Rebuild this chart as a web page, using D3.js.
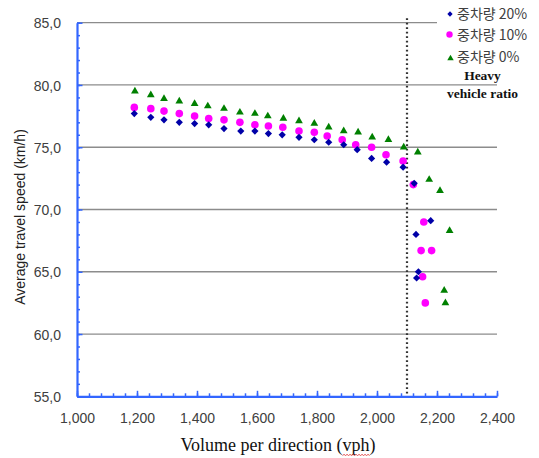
<!DOCTYPE html>
<html>
<head>
<meta charset="utf-8">
<script src="https://cdn.jsdelivr.net/npm/d3@7"></script>
<style>
  html, body { margin: 0; padding: 0; background: #fff; }
  svg { display: block; }
</style>
</head>
<body>
<svg id="chart" width="539" height="458"></svg>
<script>
// ---------------- data ----------------
const xTicks = [1000, 1200, 1400, 1600, 1800, 2000, 2200, 2400];
const yTicks = [55, 60, 65, 70, 75, 80, 85];
const legendLabels = ["중차량 20%", "중차량 10%", "중차량 0%"];
const noteLines = ["Heavy", "vehicle ratio"];
const refVolume = 2100;

// heavy vehicle ratio 20% (blue diamonds)
const vol20 = [1191, 1246, 1290, 1341, 1392, 1439, 1490, 1546, 1593, 1638, 1684, 1740, 1791,
               1839, 1889, 1934, 1982, 2032, 2087, 2124, 2179, 2130, 2138, 2132];
const spd20 = [77.7, 77.4, 77.2, 77.0, 76.9, 76.8, 76.5, 76.3, 76.3, 76.1, 76.0, 75.8, 75.6,
               75.4, 75.2, 74.8, 74.1, 73.8, 73.4, 72.1, 69.1, 68.0, 65.0, 64.5];
// 10% (magenta circles)
const vol10 = [1191, 1246, 1290, 1341, 1392, 1439, 1490, 1543, 1593, 1638, 1686, 1740, 1791,
               1834, 1884, 1929, 1982, 2030, 2087, 2121, 2156, 2147, 2182, 2152, 2161];
const spd10 = [78.2, 78.1, 77.9, 77.7, 77.5, 77.3, 77.2, 77.0, 76.8, 76.7, 76.6, 76.3, 76.2,
               75.9, 75.6, 75.2, 75.0, 74.4, 73.9, 72.0, 69.0, 66.7, 66.7, 64.6, 62.5];
// 0% (green triangles)
const vol0 = [1193, 1246, 1290, 1341, 1392, 1436, 1490, 1543, 1593, 1636, 1688, 1740, 1791,
              1839, 1889, 1937, 1984, 2038, 2089, 2136, 2174, 2210, 2242, 2224, 2228];
const spd0 = [79.5, 79.2, 78.9, 78.7, 78.5, 78.3, 78.1, 77.8, 77.7, 77.5, 77.3, 77.1, 76.9,
              76.6, 76.3, 76.2, 75.8, 75.6, 75.0, 74.6, 72.4, 71.5, 68.3, 63.5, 62.5];

// ---------------- layout ----------------
const svg = d3.select("#chart");
const x = d3.scaleLinear().domain([1000, 2400]).range([77, 497]);
const y = d3.scaleLinear().domain([55, 85]).range([396.3, 22.7]);
const axisColor = "#3366ff";
const tickFont = "'Liberation Sans', Arial, sans-serif";

// gridlines
svg.append("g").selectAll("line").data(yTicks.filter(v => v > 55)).join("line")
  .attr("x1", x(1000)).attr("x2", x(2400))
  .attr("y1", d => y(d)).attr("y2", d => y(d))
  .attr("stroke", "#8c8c8c").attr("stroke-width", 1.3);

// reference dotted line
svg.append("line")
  .attr("x1", x(refVolume)).attr("x2", x(refVolume))
  .attr("y1", y(85) - 4.5).attr("y2", y(55))
  .attr("stroke", "#333").attr("stroke-width", 2.2)
  .attr("stroke-dasharray", "1.8,2.7");

// minor ticks
const xMinor = d3.range(1000, 2401, 40);
const yMinor = d3.range(55, 85.01, 1);
svg.append("g").attr("transform", `translate(0,${y(55)})`)
  .call(d3.axisBottom(x).tickValues(xMinor).tickSize(-3).tickSizeOuter(0).tickFormat(""))
  .call(g => g.select(".domain").remove())
  .call(g => g.selectAll("line").attr("stroke", axisColor).attr("stroke-width", 1.5));
svg.append("g").attr("transform", `translate(${x(1000)},0)`)
  .call(d3.axisLeft(y).tickValues(yMinor).tickSize(-3).tickSizeOuter(0).tickFormat(""))
  .call(g => g.select(".domain").remove())
  .call(g => g.selectAll("line").attr("stroke", axisColor).attr("stroke-width", 1.5));

// major axes
const xAxis = svg.append("g").attr("transform", `translate(0,${y(55)})`)
  .call(d3.axisBottom(x).tickValues(xTicks).tickSize(-5.5).tickSizeOuter(0)
        .tickPadding(24).tickFormat(d3.format(",")));
const yAxis = svg.append("g").attr("transform", `translate(${x(1000)},0)`)
  .call(d3.axisLeft(y).tickValues(yTicks).tickSize(-5.5).tickSizeOuter(0)
        .tickPadding(16).tickFormat(d => d.toFixed(1).replace(".", ",")));
[xAxis, yAxis].forEach(g => {
  g.select(".domain").attr("stroke", axisColor).attr("stroke-width", 2.2);
  g.selectAll(".tick line").attr("stroke", axisColor).attr("stroke-width", 1.5);
  g.selectAll(".tick text").attr("fill", "#404040")
    .style("font-family", tickFont).style("font-size", "14px");
});
xAxis.selectAll(".tick text").attr("dy", "0.2em");
yAxis.selectAll(".tick text").attr("dy", "0.36em");

// ---------------- marks ----------------
const diamond = d3.symbol(d3.symbolSquare, 26);
const triangle = d3.symbol(d3.symbolTriangle, 26);

svg.append("g").selectAll("path").data(d3.zip(vol0, spd0)).join("path")
  .attr("d", triangle())
  .attr("transform", d => `translate(${x(d[0])},${y(d[1])})`)
  .attr("fill", "#008000");

svg.append("g").selectAll("circle").data(d3.zip(vol10, spd10)).join("circle")
  .attr("cx", d => x(d[0])).attr("cy", d => y(d[1])).attr("r", 3.8)
  .attr("fill", "#ff00ff");

svg.append("g").selectAll("path").data(d3.zip(vol20, spd20)).join("path")
  .attr("d", diamond())
  .attr("transform", d => `translate(${x(d[0])},${y(d[1])}) rotate(45)`)
  .attr("fill", "#0000a8");

// ---------------- legend ----------------
const lg = svg.append("g");
lg.append("rect").attr("x", 437).attr("y", 0).attr("width", 102).attr("height", 68).attr("fill", "#fff");
const rowY = [13.5, 34.5, 56.5];
lg.append("path").attr("d", d3.symbol(d3.symbolSquare, 14)())
  .attr("transform", `translate(450,${rowY[0] + 0.5}) rotate(45)`).attr("fill", "#0000a8");
lg.append("circle").attr("cx", 449.5).attr("cy", rowY[1]).attr("r", 3.2).attr("fill", "#ff00ff");
lg.append("path").attr("d", d3.symbol(d3.symbolTriangle, 18)())
  .attr("transform", `translate(450.5,${rowY[2] + 2})`).attr("fill", "#008000");
lg.selectAll("text").data(legendLabels).join("text")
  .attr("x", 457).attr("y", (d, i) => rowY[i] + 5)
  .attr("fill", "#404040")
  .style("font-family", "'Noto Sans CJK KR', sans-serif").style("font-size", "14px")
  .text(d => d);

svg.append("g").selectAll("text").data(noteLines).join("text")
  .attr("x", 482.5).attr("y", (d, i) => 80 + i * 18)
  .attr("text-anchor", "middle").attr("fill", "#111")
  .style("font-family", "'Liberation Serif', 'Times New Roman', serif")
  .style("font-weight", "bold").style("font-size", "13.5px")
  .text(d => d);

// ---------------- titles ----------------
svg.append("text")
  .attr("transform", "translate(25,217) rotate(-90)")
  .attr("text-anchor", "middle").attr("fill", "#222")
  .style("font-family", tickFont).style("font-size", "14px")
  .text("Average travel speed (km/h)");

const xt = svg.append("text")
  .attr("x", 278).attr("y", 451)
  .attr("text-anchor", "middle").attr("fill", "#111")
  .style("font-family", "'Liberation Serif', 'Times New Roman', serif").style("font-size", "18px")
  .text("Volume per direction (vph)");

// spell-check squiggle under "vph"
const str = "Volume per direction (vph)";
const i0 = str.indexOf("vph");
const n = xt.node();
const a = n.getExtentOfChar(i0), b = n.getExtentOfChar(i0 + 2);
const sx0 = a.x, sx1 = b.x + b.width, sy = 455;
const pts = d3.range(sx0, sx1 + 0.01, 1.5).map((px, k) => [px, sy + (k % 2 ? -0.9 : 0.9)]);
svg.append("path").attr("d", d3.line()(pts)).attr("fill", "none")
  .attr("stroke", "#e04040").attr("stroke-width", 0.8);
</script>
</body>
</html>
